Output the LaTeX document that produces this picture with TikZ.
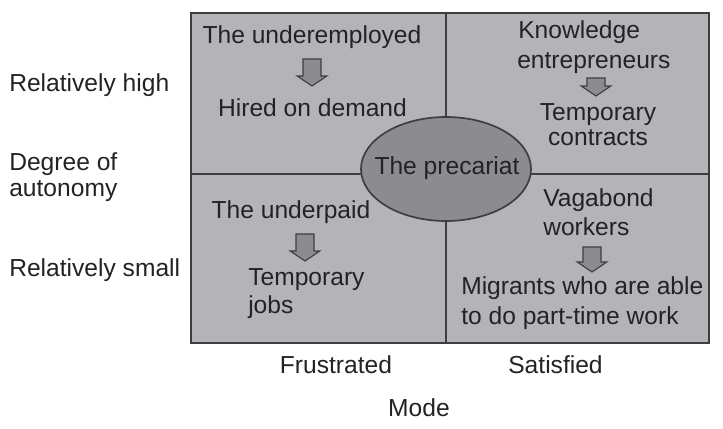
\documentclass[tikz,border=0pt]{standalone}
\usepackage{fontspec}
\setmainfont{Liberation Sans}
\usepackage{tikz}

\definecolor{cellgray}{RGB}{180,180,182}
\definecolor{ovalgray}{RGB}{140,140,142}
\definecolor{linegray}{RGB}{62,62,64}
\definecolor{textgray}{RGB}{35,35,38}

\tikzset{
  lbl/.style={font=\fontsize{17.5}{21}\selectfont, text=textgray, inner sep=0pt},
  cell/.style={fill=cellgray, draw=linegray, line width=1.2pt},
  oval/.style={fill=ovalgray, draw=linegray, line width=1.2pt},
  blockarrow/.style={fill=ovalgray, draw=linegray, line width=0.8pt, line join=miter},
  pics/downarrow/.style={code={
    \draw[blockarrow] (-0.225,0) -- (0.225,0) -- (0.225,{-#1+0.25}) -- (0.37,{-#1+0.25})
      -- (0,{-#1}) -- (-0.37,{-#1+0.25}) -- (-0.225,{-#1+0.25}) -- cycle;
  }}
}

\begin{document}
\begin{tikzpicture}
  \useasboundingbox (0,0) rectangle (18.075,10.7);
  % grid of four cells
  \draw[cell] (4.775,2.125) rectangle (17.725,10.375);
  \draw[linegray, line width=1.2pt] (11.15,2.125) -- (11.15,10.375);
  \draw[linegray, line width=1.2pt] (4.775,6.35) -- (17.725,6.35);
  % centre oval
  \draw[oval] (11.15,6.475) ellipse [x radius=2.125, y radius=1.3];
  \node[lbl] (prec) at (11.175,6.5) {The precariat};

  % top left
  \node[lbl, anchor=base] (underemp) at (7.8,9.617) {The underemployed};
  \pic at (7.8,9.225) {downarrow=0.675};
  \node[lbl, anchor=base] (hired) at (7.8125,7.8) {Hired on demand};
  % top right
  \node[lbl, anchor=base west] (know) at (12.95,9.742) {Knowledge};
  \node[lbl, anchor=base west] (entre) at (12.925,8.9925) {entrepreneurs};
  \pic at (14.9,8.75) {downarrow=0.45};
  \node[lbl, anchor=base] (tempa) at (14.95,7.7) {Temporary};
  \node[lbl, anchor=base] (contr) at (14.95,7.075) {contracts};
  % bottom left
  \node[lbl, anchor=base] (underpaid) at (7.275,5.2425) {The underpaid};
  \pic at (7.625,4.85) {downarrow=0.675};
  \node[lbl, anchor=base west] (tempb) at (6.2,3.575) {Temporary};
  \node[lbl, anchor=base west] (jobs) at (6.2,2.875) {jobs};
  % bottom right
  \node[lbl, anchor=base west] (vaga) at (13.575,5.55) {Vagabond};
  \node[lbl, anchor=base west] (workers) at (13.575,4.825) {workers};
  \pic at (14.8,4.525) {downarrow=0.625};
  \node[lbl, anchor=base west] (migr) at (11.525,3.35) {Migrants who are able};
  \node[lbl, anchor=base west] (parttime) at (11.525,2.6) {to do part-time work};

  % axis labels
  \node[lbl, anchor=base west] (high) at (0.225,8.4075) {Relatively high};
  \node[lbl, anchor=base west] (degree) at (0.225,6.45) {Degree of};
  \node[lbl, anchor=base west] (auton) at (0.225,5.7825) {autonomy};
  \node[lbl, anchor=base west] (small) at (0.225,3.7825) {Relatively small};
  \node[lbl, anchor=base] (frus) at (8.4,1.375) {Frustrated};
  \node[lbl, anchor=base] (sat) at (13.8875,1.375) {Satisfied};
  \node[lbl, anchor=base] (mode) at (10.475,0.2825) {Mode};
\end{tikzpicture}
\end{document}
